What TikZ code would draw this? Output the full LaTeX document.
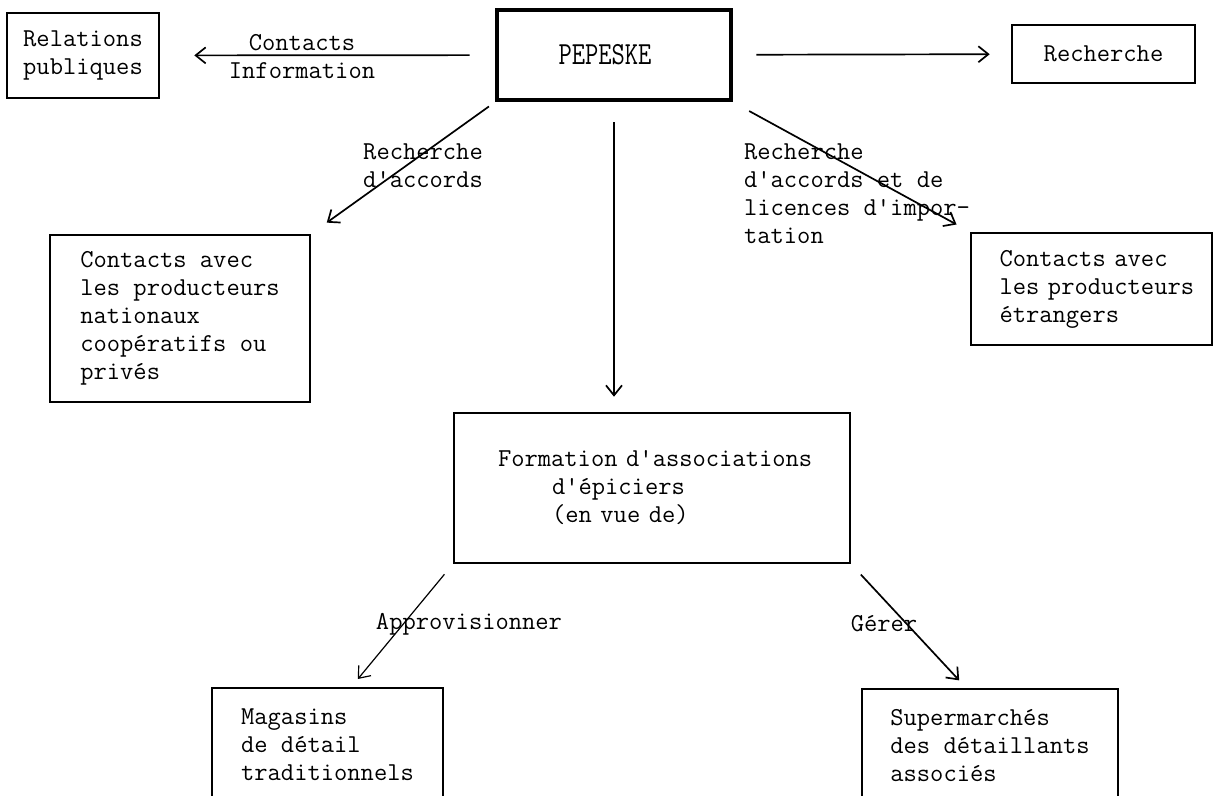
\documentclass[tikz,border=0pt]{standalone}
\usepackage{fontspec}
\usetikzlibrary{arrows.meta}

\newcommand{\tyfont}{\fontsize{12.9}{14}\selectfont\ttfamily\fontdimen2\font=\fontcharwd\font`a\fontdimen3\font=0pt\fontdimen4\font=0pt}

\tikzstyle{bx} = [draw, line width=1.3pt, inner sep=0pt, align=left, font=\tyfont]
\tikzstyle{lbl} = [inner sep=0pt, align=left, font=\tyfont]
\tikzstyle{arr} = [-{Straight Barb[length=5pt,width=8pt]}, line width=0.85pt]

\begin{document}
\begin{tikzpicture}[x=0.5pt, y=-0.5pt]
    \useasboundingbox (0,0) rectangle (1215,796);
    \clip (0,0) rectangle (1215,796);

    % top row
    \node[bx, minimum width=76pt, minimum height=42.5pt] (rel) at (83,55.5) {Relations\\publiques};
    \node[bx, line width=2.4pt, minimum width=117pt, minimum height=45pt] (pep) at (614,55) {\scalebox{1}[1.25]{PEPESKE}\hspace{9pt}};
    \node[bx, minimum width=91.5pt, minimum height=29pt] (rech) at (1103.5,54) {Recherche};

    % producteurs
    \node[bx, minimum width=130pt, minimum height=83.5pt] (natl) at (180,318.5) {Contacts avec\\les producteurs\\nationaux\\coopératifs ou\\privés};
    \node[bx, text width=113pt, minimum width=120.5pt, minimum height=56pt] (etr) at (1091.5,289) {\hspace*{10.5pt}Contacts avec\\\hspace*{10.5pt}les producteurs\\\hspace*{10.5pt}étrangers};

    % associations
    \node[bx, text width=172pt, minimum width=198pt, minimum height=75pt] (form) at (652,488) {\hspace*{9pt}Formation d'associations\\\hspace*{36pt}d'épiciers\\\hspace*{36pt}(en vue de)};
    \node[bx, minimum width=115.5pt, minimum height=57pt] (mag) at (327.5,745) {Magasins\\de détail\\traditionnels};
    \node[bx, minimum width=128pt, minimum height=57pt] (sup) at (990,746) {Supermarchés\\des détaillants\\associés};

    % labels
    \node[lbl, align=center] (lblinfo) at (302,57) {Contacts\\Information};
    \node[lbl] (lblacc) at (423,166) {Recherche\\d'accords};
    \node[lbl] (lblimp) at (857,194) {Recherche\\d'accords et de\\licences d'impor-\\tation};
    \node[lbl] (lblappro) at (469,624) {Approvisionner};
    \node[lbl] (lblger) at (884,624) {Gérer};

    % arrows
    \draw[arr, shorten <=12.5pt, shorten >=17pt] (pep) -- (rel);
    \draw[arr, shorten <=11.5pt, shorten >=10.5pt] (pep) -- (rech);
    \draw[arr, shorten <=3.5pt, shorten >=9.5pt] (pep.south west) -- (natl.north east);
    \draw[arr, shorten <=9pt, shorten >=7.5pt] (pep.south east) -- (etr.north west);
    \draw[arr, shorten <=10pt, shorten >=7.5pt] (pep.south) -- (pep.south |- form.north);
    \draw[arr, line width=0.6pt, shorten <=6.5pt, shorten >=5pt] (form.south west) -- ([xshift=12pt]mag.north);
    \draw[arr, shorten <=7pt, shorten >=5pt] (form.south east) -- ([xshift=-12pt]sup.north);
\end{tikzpicture}
\end{document}
